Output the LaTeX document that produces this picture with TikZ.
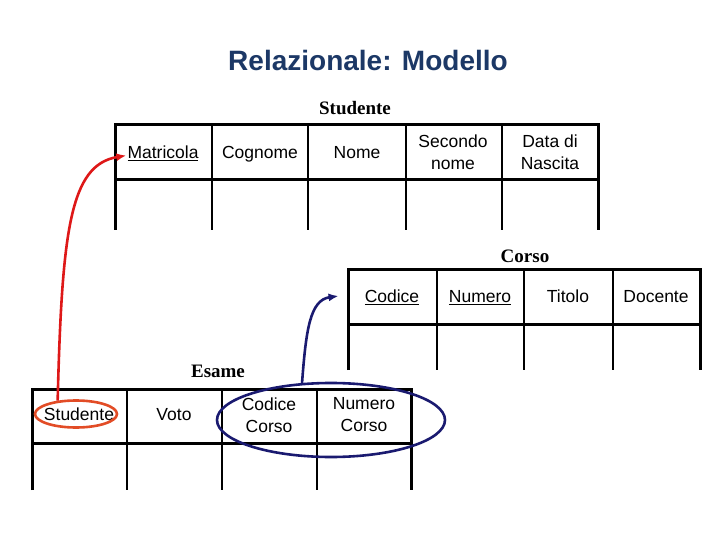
\documentclass[tikz,border=0pt]{standalone}
\usepackage{fontspec}
\usepackage{xcolor}
\usetikzlibrary{shapes.geometric}
\usetikzlibrary{arrows.meta}
\newfontfamily\arialf{Liberation Sans}
\newfontfamily\timesf{Liberation Serif}
\definecolor{titleblue}{RGB}{28,56,102}
\definecolor{linkred}{RGB}{222,24,24}
\definecolor{ovalred}{RGB}{226,76,38}
\definecolor{linkblue}{RGB}{26,26,112}
\newcommand{\sottol}[1]{\setbox0\hbox{#1}\rlap{\rule[-3pt]{\wd0}{1.6pt}}\box0}
\tikzset{
  cell/.style={font=\arialf\fontsize{17.5}{22}\selectfont, align=center, inner sep=0pt},
  onecell/.style={cell, text height=12.6pt, text depth=0pt},
  tcaption/.style={font=\timesf\bfseries\fontsize{19}{22}\selectfont, inner sep=0pt},
  tabline/.style={line width=3pt},
  divline/.style={line width=1.1pt}
}
\begin{document}
\begin{tikzpicture}[x=1pt,y=-1pt]
\useasboundingbox (0,0) rectangle (720,540);
\node[font=\arialf\bfseries\fontsize{28}{32}\selectfont, text=titleblue, inner sep=0pt] (title) at (368,60) {Relazionale: Modello};
% tabella Studente
\node[tcaption] (capstud) at (355,108) {Studente};
\draw[tabline] (115,230) -- (115,125) -- (598,125) -- (598,230);
\draw[tabline] (115,180) -- (598,180);
\foreach \x in {212,308,406,502} \draw[divline] (\x,125) -- (\x,230);
\node[onecell] (mat) at (163,152) {\sottol{Matricola}};
\node[onecell] (cogn) at (260,152) {Cognome};
\node[onecell] (nome) at (357,152) {Nome};
\node[cell] (snome) at (453,152) {Secondo\\nome};
\node[cell] (data) at (550,152) {Data di\\Nascita};
% tabella Corso
\node[tcaption] (capcorso) at (525,256) {Corso};
\draw[tabline] (348,370) -- (348,269) -- (700,269) -- (700,370);
\draw[tabline] (348,324) -- (700,324);
\foreach \x in {437,524,613} \draw[divline] (\x,269) -- (\x,370);
\node[onecell] (cod) at (392,296) {\sottol{Codice}};
\node[onecell] (num) at (480,296) {\sottol{Numero}};
\node[onecell] (tit) at (568,296) {Titolo};
\node[onecell] (doc) at (656,296) {Docente};
% tabella Esame
\node[tcaption] (capesame) at (218,371) {Esame};
\draw[tabline] (32,490) -- (32,389) -- (411,389) -- (411,490);
\draw[tabline] (32,443) -- (411,443);
\foreach \x in {127,222,317} \draw[divline] (\x,389) -- (\x,490);
\node[onecell] (estud) at (79,414) {Studente};
\node[onecell] (voto) at (174,414) {Voto};
\node[cell] (ecod) at (269,415) {Codice\\Corso};
\node[cell] (enum) at (364,415) {Numero\\Corso};
% evidenziazioni
\node[ellipse, draw=ovalred, line width=2.6pt, minimum width=82pt, minimum height=27pt, inner sep=0pt] (ovstud) at (76,414) {};
\node[ellipse, draw=linkblue, line width=2.6pt, minimum width=228pt, minimum height=74pt, inner sep=0pt] (ovcorso) at (331,420) {};
\draw[linkred, line width=2.6pt, -{Latex[length=10pt,width=8pt]}] (ovstud.144) .. controls (62,230) and (70,165) .. ([shift={(-1pt,3pt)}]mat.south west);
\draw[linkblue, line width=2.6pt, -{Latex[length=10pt,width=8pt]}] (ovcorso.128) .. controls (306,330) and (310,300) .. ([xshift=-26pt]cod.west);
\end{tikzpicture}
\end{document}
